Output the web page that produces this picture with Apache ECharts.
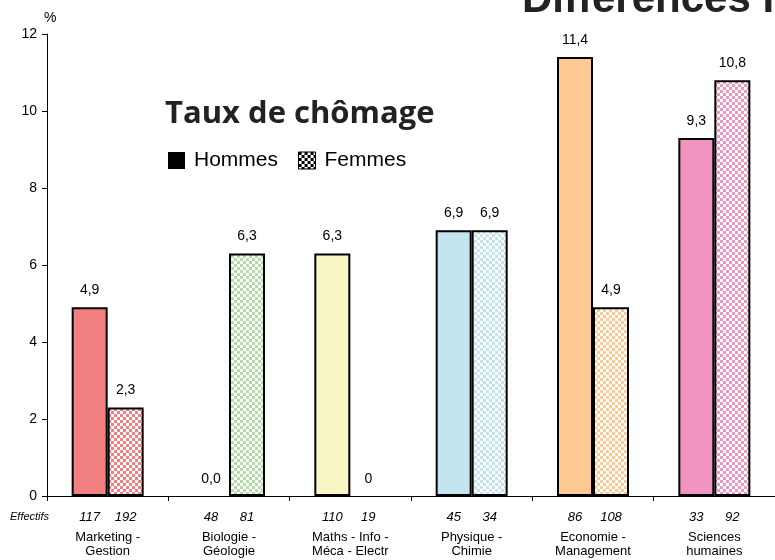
<!DOCTYPE html>
<html><head><meta charset="utf-8">
<script src="https://cdn.jsdelivr.net/npm/echarts@6/dist/echarts.min.js"></script>
<style>html,body{margin:0;padding:0;background:#fff}#c{width:775px;height:560px}</style>
</head><body><div id="c"></div>
<script>
var categories = ['Marketing -\nGestion', 'Biologie -\nGéologie', 'Maths - Info -\nMéca - Electr', 'Physique -\nChimie', 'Economie -\nManagement', 'Sciences\nhumaines'];
var hommes = [4.9, 0.0, 6.3, 6.9, 11.4, 9.3];
var femmes = [2.3, 6.3, 0, 6.9, 4.9, 10.8];
var effHommes = [117, 48, 110, 45, 86, 33];
var effFemmes = [192, 81, 19, 34, 108, 92];
var colors = ['#F28080', '#B4DCA8', '#F9F6C6', '#C3E5EF', '#FFC993', '#F294C1'];
var yTicks = [0, 2, 4, 6, 8, 10, 12];

function checker(color) {
  var c = document.createElement('canvas');
  c.width = 6; c.height = 6;
  var g = c.getContext('2d');
  g.fillStyle = '#ffffff'; g.fillRect(0, 0, 6, 6);
  g.fillStyle = color; g.fillRect(0, 0, 3, 3); g.fillRect(3, 3, 3, 3);
  return { image: c, repeat: 'repeat' };
}
function fmt(v) { return v.toFixed(1).replace('.', ','); }

var chart = echarts.init(document.getElementById('c'), null, { renderer: 'canvas' });
var font = '"Liberation Sans", Arial, sans-serif';

chart.setOption({
  animation: false,
  textStyle: { fontFamily: font, color: '#000' },
  grid: { left: 47, right: 0, top: 34, bottom: 64, containLabel: false },
  legend: {
    left: 163, top: 145,
    itemWidth: 17, itemHeight: 17, itemGap: 20,
    textStyle: { fontSize: 21, color: '#000', fontFamily: font, padding: [0, 0, 0, 4] },
    data: [
      { name: 'Hommes', icon: 'rect', itemStyle: { color: '#000', borderWidth: 0 } },
      { name: 'Femmes', icon: 'rect', itemStyle: { color: checker('#000'), borderColor: '#000', borderWidth: 1 } }
    ]
  },
  graphic: [
    { type: 'text', left: 522, top: -21, style: { text: 'Différences Hommes / Femmes', font: 'bold 42px "Liberation Sans", Arial, sans-serif', fill: '#222' } },
    { type: 'text', left: 165, top: 99, style: { text: 'Taux de chômage', font: 'bold 31px "Open Sans", sans-serif', fill: '#222' } },
    { type: 'text', left: 10, top: 511, style: { text: 'Effectifs', font: 'italic 11px "Liberation Sans", Arial, sans-serif', fill: '#000' } }
  ],
  xAxis: {
    type: 'category',
    data: categories,
    axisLine: { lineStyle: { color: '#000', width: 1 } },
    axisTick: { show: true, length: 5, lineStyle: { color: '#000' } },
    axisLabel: {
      interval: 0, margin: 9, color: '#000',
      formatter: function (v, i) {
        var parts = v.split('\n');
        return '{n|' + effHommes[i] + '}{n|' + effFemmes[i] + '}\n{c|' + parts[0] + '}\n{c|' + parts[1] + '}';
      },
      rich: {
        n: { width: 36, align: 'center', fontStyle: 'italic', fontSize: 13, lineHeight: 25, fontFamily: font, color: '#000' },
        c: { fontSize: 13, lineHeight: 14, align: 'center', fontFamily: font, color: '#000' }
      }
    }
  },
  yAxis: {
    type: 'value', min: 0, max: 12, interval: 2,
    name: '%', nameGap: 9,
    nameTextStyle: { fontSize: 14, color: '#000', align: 'left', padding: [0, 0, 0, -3] },
    axisLine: { show: true, lineStyle: { color: '#000', width: 1 } },
    axisTick: { show: true, length: 5, inside: false, lineStyle: { color: '#000' } },
    splitLine: { show: false },
    axisLabel: { fontSize: 14, color: '#000', margin: 10, formatter: function (v) { return yTicks.indexOf(v) >= 0 ? String(v) : ''; } }
  },
  series: [
    {
      name: 'Hommes', type: 'bar', barWidth: 36, barGap: '0%',
      data: hommes.map(function (v, i) { return { value: v, itemStyle: { color: colors[i], borderWidth: v === 0 ? 0 : 2 } }; }),
      itemStyle: { borderColor: '#000', borderWidth: 2 },
      label: { show: true, position: 'top', distance: 10, fontSize: 14, color: '#000', fontFamily: font, formatter: function (p) { return fmt(p.value); } }
    },
    {
      name: 'Femmes', type: 'bar', barWidth: 36, barGap: '0%',
      data: femmes.map(function (v, i) { return { value: v, itemStyle: { color: checker(colors[i]), borderWidth: v === 0 ? 0 : 2 } }; }),
      itemStyle: { borderColor: '#000', borderWidth: 2 },
      label: { show: true, position: 'top', distance: 10, fontSize: 14, color: '#000', fontFamily: font, formatter: function (p) { return p.dataIndex === 2 ? '0' : fmt(p.value); } }
    }
  ]
});
</script></body></html>
